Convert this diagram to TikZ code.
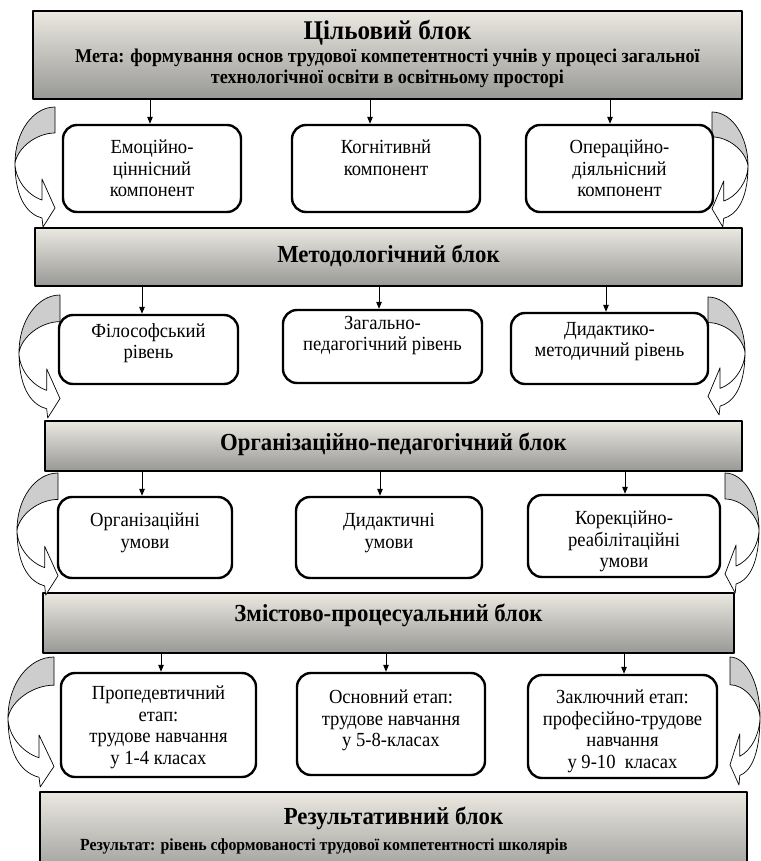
\documentclass[tikz,border=0pt]{standalone}
\usepackage{fontspec}
\setmainfont{Liberation Serif}[FakeStretch=0.93]
\usetikzlibrary{arrows.meta}
\definecolor{blktop}{RGB}{234,232,224}
\definecolor{blkbot}{RGB}{152,152,150}
\definecolor{backgray}{RGB}{205,205,205}
\tikzset{
  pics/bendarr/.style={code={
      \draw[line width=0.7pt, fill=white] (-40,56) .. controls (-40,95) and (-25,108) .. (-13,111)
      -- (-12,120) -- (0,101) -- (-13,72) -- (-13,93)
      .. controls (-28,88) and (-40,72) .. (-40,56) -- cycle;
      \draw[line width=0.7pt, fill=backgray] (0,0) .. controls (-22,0) and (-40,25) .. (-40,56)
      .. controls (-37,40) and (-18,26) .. (0,26) -- cycle;
  }}
}
\begin{document}
\begin{tikzpicture}[x=1pt, y=-1pt, line join=round,
  blk/.style={draw, line width=2.6pt, top color=blktop, bottom color=blkbot, inner sep=0pt,
    align=flush center, font=\bfseries\fontsize{24.5}{27}\selectfont},
  comp/.style={draw, line width=2.4pt, rounded corners=14pt, fill=white, inner sep=0pt,
    align=flush center, font=\fontsize{20}{21.5}\selectfont},
  arr/.style={line width=1pt, -{Triangle[length=7pt,width=5.5pt]}}]
\useasboundingbox (0,0) rectangle (760,861);
% blocks
\node[blk, text width=709pt, text height=29pt, text depth=59pt] (b1) at (387.5,55)
  {{\fontsize{27}{29}\selectfont Цільовий блок}\\[1pt]{\fontsize{19.5}{21.5}\selectfont Мета: формування основ трудової компетентності учнів у процесі загальної\\
  технологічної освіти в освітньому просторі\par}};
\node[blk, text width=707pt, text height=34pt, text depth=24pt] (b2) at (388.5,257) {Методологічний блок};
\node[blk, text width=697pt, text height=29pt, text depth=21pt] (b3) at (393.5,446) {Організаційно-педагогічний блок};
\node[blk, text width=691pt, text height=28pt, text depth=32pt] (b4) at (388.5,623) {Змістово-процесуальний блок};
\node[blk, text width=707pt, text height=32pt, text depth=56pt] (b5) at (393.5,836) {Результативний блок};
\node[anchor=base west, inner sep=0pt, font=\bfseries\fontsize{17}{20}\selectfont] (res) at (80,850)
  {Результат: рівень сформованості трудової компетентності школярів};
% curved arrows
\foreach \x/\y/\sx/\sy in {55/107/1/1, 60/295/1.025/1.025, 58/473/1.025/1.017, 54/657/1.15/1.083,
  712/112/-0.9/0.958, 708/297/-0.925/0.983, 725/473/-0.85/1, 730/657/-0.75/1.067}
  \pic[xscale=\sx, yscale=\sy] at (\x,\y) {bendarr};
% components
\node[comp, text width=178pt, text height=29pt, text depth=58pt] (e1) at (152,168.5) {Емоційно-\\ціннісний\\компонент};
\node[comp, text width=188pt, text height=29pt, text depth=58pt] (e2) at (386,168.5) {Когнітивнй\\компонент};
\node[comp, text width=187pt, text height=29pt, text depth=58pt] (e3) at (619.5,168.5) {Операційно-\\діяльнісний\\компонент};
% levels
\node[comp, text width=179pt, text height=22pt, text depth=47pt] (f1) at (148.5,349.5) {Філософський\\рівень};
\node[comp, text width=199pt, text height=19pt, text depth=54pt] (f2) at (382.5,346.5) {Загально-\\педагогічний рівень};
\node[comp, text width=197pt, text height=22pt, text depth=49pt] (f3) at (609.5,348.5) {Дидактико-\\методичний рівень};
% conditions
\node[comp, text width=174pt, text height=29.5pt, text depth=51.5pt] (g1) at (145,537.5) {Організаційні\\умови};
\node[comp, text width=186pt, text height=29.5pt, text depth=51.5pt] (g2) at (389,537.5) {Дидактичні\\умови};
\node[comp, text width=192pt, text height=29.5pt, text depth=52.5pt] (g3) at (624,536) {Корекційно-\\реабілітаційні\\умови};
% stages
\node[comp, text width=195pt, text height=26.5pt, text depth=77.5pt] (h1) at (158.5,725) {Пропедевтичний\\етап:\\трудове навчання\\у 1-4 класах};
\node[comp, text width=188pt, text height=30.5pt, text depth=71.5pt] (h2) at (391,724) {Основний етап:\\трудове навчання\\у 5-8-класах};
\node[comp, text width=189pt, text height=28.5pt, text depth=74.5pt] (h3) at (622.5,726.5) {Заключний етап:\\професійно-трудове\\навчання\\у 9-10~ класах};
% arrows down
\foreach \a/\b/\d in {b1/e1/-2, b1/e2/-16, b1/e3/-9.5, b2/f1/-6.5, b2/f2/-3.5, b2/f3/-3.5,
  b3/g1/-3, b3/g2/-9, b3/g3/1, b4/h1/2.5, b4/h2/-5, b4/h3/1.5}
  \draw[arr] ([xshift=\d]\b.north |- \a.south) -- ([xshift=\d]\b.north);
\end{tikzpicture}
\end{document}
